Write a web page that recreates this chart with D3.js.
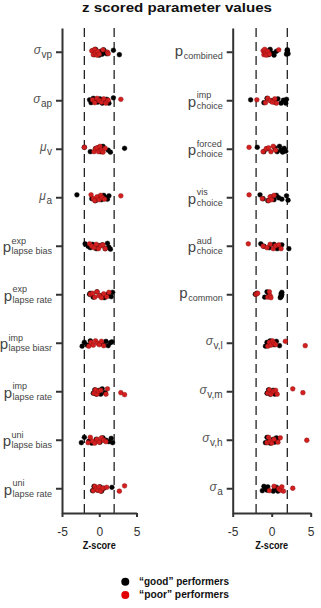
<!DOCTYPE html>
<html>
<head>
<meta charset="utf-8">
<script src="https://cdn.jsdelivr.net/npm/d3@7"></script>
<style>
body { margin: 0; background: #fff; }
svg { display: block; }
</style>
</head>
<body>
<svg id="drawing_region"></svg>
<script>
// row labels (base symbol, superscript, subscript)
const leftLabels = [
    {base: "σ", sub: "vp"},
    {base: "σ", sub: "ap"},
    {base: "μ", sub: "v"},
    {base: "μ", sub: "a"},
    {base: "p", sup: "exp", sub: "lapse bias"},
    {base: "p", sup: "exp", sub: "lapse rate"},
    {base: "p", sup: "imp", sub: "lapse biasr"},
    {base: "p", sup: "imp", sub: "lapse rate"},
    {base: "p", sup: "uni", sub: "lapse bias"},
    {base: "p", sup: "uni", sub: "lapse rate"}
];
const rightLabels = [
    {base: "p", sub: "combined"},
    {base: "p", sup: "imp", sub: "choice"},
    {base: "p", sup: "forced", sub: "choice"},
    {base: "p", sup: "vis", sub: "choice"},
    {base: "p", sup: "aud", sub: "choice"},
    {base: "p", sub: "common"},
    {base: "σ", sub: "v,l"},
    {base: "σ", sub: "v,m"},
    {base: "σ", sub: "v,h"},
    {base: "σ", sub: "a"}
];

// z scores, one list per row
const leftGood = [
    [-0.9,-0.7,-0.5,-0.3,0.0,0.2,0.4,0.6,0.9,1.0,1.9,2.7],
    [-1.3,-1.1,-0.8,-0.5,-0.2,0.1,0.4,0.7,1.0,1.3,1.9],
    [-2.0,-1.2,-0.5,-0.2,0.2,0.5,1.2,1.5,3.4],
    [-3.0,-1.0,-0.5,0.0,0.3,0.6,0.9,1.1,1.3],
    [-1.9,-1.5,-1.2,-0.9,-0.4,0.0,0.4,0.8,1.1,1.3,1.5],
    [-1.3,-1.2,-0.8,-0.3,0.2,0.7,1.2,1.6,1.8],
    [-2.3,-2.0,-1.6,-1.2,0.2,0.6,0.9,1.2,1.5,1.7],
    [-0.8,-0.6,-0.4,-0.2,0.0,0.2,0.4,0.8],
    [-2.4,-2.0,-1.4,-1.0,-0.4,0.1,0.5,0.9,1.3,1.6,1.8],
    [-0.9,-0.7,-0.5,-0.2,0.1,0.3,0.6,1.7]
];
const leftPoor = [
    [-1.0,-0.8,-0.6,-0.5,-0.3,-0.2,0.0,0.5,1.1,1.2],
    [-0.9,-0.6,-0.3,0.0,0.3,0.6,0.9,1.2,2.9],
    [-2.0,-0.7,-0.5,-0.3,-0.1,0.1,0.3,0.5,0.8],
    [-1.1,-0.8,-0.6,-0.3,0.0,0.2,0.4,0.7,2.9],
    [-1.3,-1.0,-0.7,-0.4,-0.1,0.2,0.5,0.8],
    [-1.2,-0.9,-0.6,-0.3,0.0,0.3,0.6,1.0,1.3],
    [-1.4,-1.1,-0.8,-0.5,-0.2,0.0,0.3,0.6],
    [-0.7,-0.5,-0.3,-0.1,0.2,0.9,1.1,2.9,3.4],
    [-1.5,-1.2,-0.9,-0.6,-0.3,0.0,0.3,0.6,0.9],
    [-0.8,-0.6,-0.4,-0.2,0.0,0.2,0.5,1.0,2.7,3.4]
];
const rightGood = [
    [-0.7,-0.4,-0.2,0.1,0.3,0.6,1.9,2.0,2.0,2.1,2.0],
    [-2.7,-1.0,-0.6,0.0,0.4,0.8,1.2,1.5,1.9,1.8],
    [-1.85,-1.0,-0.6,0.4,0.7,1.0,1.2,1.4,1.6,1.8],
    [-1.5,-1.1,-0.5,-0.1,0.3,0.6,0.9,1.3,1.9,2.1],
    [-1.4,-1.0,-0.3,0.3,0.7,1.0,1.3,2.2],
    [-2.1,-1.9,-0.9,-0.6,-0.4,1.1,1.2,1.2,1.3,1.3,1.2],
    [-0.8,-0.6,-0.4,-0.2,0.0,0.3,0.6,1.0],
    [-0.6,-0.4,-0.2,0.0,0.2,0.4],
    [-0.8,-0.6,-0.4,-0.2,0.2,0.4,0.6,0.7],
    [-1.2,-1.0,-0.8,-0.6,-0.5,0.2,0.4,0.6,0.8]
];
const rightPoor = [
    [-1.1,-1.0,-0.9,-0.8,-0.7,-0.5,-0.3,0.9],
    [-1.9,-0.8,-0.5,-0.2,0.1,0.4,0.6],
    [-2.9,-1.1,-0.7,-0.4,-0.1,0.2,0.5],
    [-2.9,-1.2,-0.4,-0.2,0.0,0.3],
    [-3.0,-1.1,-0.6,-0.2,0.2,0.5,0.9,1.2],
    [-2.0,-1.8,-0.5,-0.3,-0.2,-0.1],
    [-0.5,-0.3,-0.1,0.1,0.3,0.5,1.75,4.3],
    [-0.5,-0.3,-0.1,0.2,0.5,0.7,2.7,4.0],
    [-0.6,-0.4,-0.2,0.0,0.3,0.8,1.1,4.5],
    [-0.3,0.3,0.9,1.1,1.3,1.5,2.7]
];

const xTicks = [-5, 0, 5];
const thresholds = [-2, 2];
const groups = ["\u201Cgood\u201D performers", "\u201Cpoor\u201D performers"];
const groupColors = ["#000000", "#d21f1f"];
// vertical scatter, fraction of a row
const jitter = [-0.03, 0.05, -0.06, 0.02, 0.06, -0.02, 0.04, -0.05, 0.0, 0.03, -0.04, 0.05, -0.01];

const svg = d3.select("#drawing_region")
    .attr("width", 321)
    .attr("height", 608)
    .style("font-family", "'Liberation Sans', Arial, sans-serif");

svg.append("text")
    .attr("x", 177)
    .attr("y", 11.5)
    .attr("text-anchor", "middle")
    .attr("font-weight", "bold")
    .attr("font-size", "13px")
    .attr("textLength", 190)
    .attr("lengthAdjust", "spacingAndGlyphs")
    .attr("fill", "#111")
    .text("z scored parameter values");

class JitterPanel {

    constructor( config ) {
        this.config = config;
        this.init();
    }

    init() {
        let self = this;
        const c = self.config;

        self.xscale = d3.scaleLinear()
            .domain([-5, 5])
            .range([c.left, c.right]);

        self.yscale = d3.scaleBand()
            .domain(d3.range(c.labels.length))
            .range([c.top, c.bottom]);

        self.g = svg.append("g");
    }

    render() {
        let self = this;
        const c = self.config;
        const bw = self.yscale.bandwidth();
        const cy = i => self.yscale(i) + bw / 2;

        // dashed threshold lines
        self.g.selectAll(".thr")
            .data(thresholds)
            .join("line")
            .attr("x1", d => self.xscale(d))
            .attr("x2", d => self.xscale(d))
            .attr("y1", c.top)
            .attr("y2", c.bottom)
            .attr("stroke", "#222")
            .attr("stroke-width", 1.3)
            .attr("stroke-dasharray", "9,5");

        // axes
        const yaxis = d3.axisLeft(self.yscale)
            .tickSize(6)
            .tickSizeOuter(0)
            .tickFormat("");
        const ya = self.g.append("g")
            .attr("transform", `translate(${c.left},0)`)
            .call(yaxis);

        const xaxis = d3.axisBottom(self.xscale)
            .tickValues(xTicks)
            .tickSize(4)
            .tickPadding(10)
            .tickSizeOuter(0)
            .tickFormat(d => String(d));
        const xa = self.g.append("g")
            .attr("transform", `translate(0,${c.bottom})`)
            .call(xaxis);

        [ya, xa].forEach(a => {
            a.select(".domain").attr("stroke", "#333").attr("stroke-width", 2);
            a.selectAll(".tick line").attr("stroke", "#333").attr("stroke-width", 2);
        });
        xa.selectAll(".tick text")
            .attr("font-size", "12px")
            .attr("fill", "#333")
            .attr("font-family", "'Liberation Sans', Arial, sans-serif");

        self.g.append("text")
            .attr("x", self.xscale(0))
            .attr("y", 549)
            .attr("text-anchor", "middle")
            .attr("font-weight", "bold")
            .attr("font-size", "10px")
            .attr("textLength", 33)
            .attr("lengthAdjust", "spacingAndGlyphs")
            .attr("fill", "#111")
            .text("Z-score");

        // row labels
        c.labels.forEach((lab, i) => {
            const y = cy(i);
            const xEnd = c.left - 10;
            const isP = lab.base === "p";
            const stacked = !!lab.sup;
            const lg = self.g.append("g").attr("fill", "#444");

            const sub = lg.append("text")
                .attr("font-size", isP ? "9px" : "10px")
                .attr("y", y + (stacked ? 8 : (isP ? 6.5 : 6)))
                .text(lab.sub);
            let w = sub.node().getComputedTextLength();
            if (stacked) {
                const sup = lg.append("text")
                    .attr("font-size", "9px")
                    .attr("y", y - 2.5)
                    .text(lab.sup);
                w = Math.max(w, sup.node().getComputedTextLength());
                sup.attr("x", xEnd - w);
            }
            sub.attr("x", xEnd - w);

            lg.append("text")
                .attr("x", xEnd - w - 0.5)
                .attr("y", y + (isP ? (stacked ? 6 : 3.5) : 2))
                .attr("text-anchor", "end")
                .attr("font-size", isP ? "15px" : "12px")
                .attr("font-style", isP ? "normal" : "italic")
                .attr("fill", isP ? "#444" : "#555")
                .text(lab.base);
        });

        // points
        [c.good, c.poor].forEach((rows, gi) => {
            const pts = [];
            rows.forEach((vals, r) => vals.forEach((v, k) =>
                pts.push({row: r, value: v, j: jitter[(k + r * 5) % jitter.length]})));
            self.g.append("g")
                .selectAll("circle")
                .data(pts)
                .join("circle")
                .attr("cx", d => self.xscale(d.value))
                .attr("cy", d => cy(d.row) + d.j * bw)
                .attr("r", 2.4)
                .attr("fill", groupColors[gi])
                .attr("stroke", gi === 0 ? "#000" : "#8a1010")
                .attr("stroke-width", 0.4);
        });
    }
}

const leftPanel = new JitterPanel({
    left: 62, right: 136.5, top: 28, bottom: 513,
    labels: leftLabels, good: leftGood, poor: leftPoor
});
leftPanel.render();

const rightPanel = new JitterPanel({
    left: 232.7, right: 310.7, top: 28, bottom: 513,
    labels: rightLabels, good: rightGood, poor: rightPoor
});
rightPanel.render();

// legend
const legend = svg.append("g");
groups.forEach((name, i) => {
    legend.append("circle")
        .attr("cx", 125.3)
        .attr("cy", 581.7 + i * 13.3)
        .attr("r", 4)
        .attr("fill", i === 0 ? "#000" : "#e00000");
    legend.append("text")
        .attr("x", 139)
        .attr("y", 584.5 + i * 13.3)
        .attr("font-size", "10px")
        .attr("font-weight", "bold")
        .attr("textLength", 90)
        .attr("lengthAdjust", "spacingAndGlyphs")
        .attr("fill", "#111")
        .text(name);
});
</script>
</body>
</html>
